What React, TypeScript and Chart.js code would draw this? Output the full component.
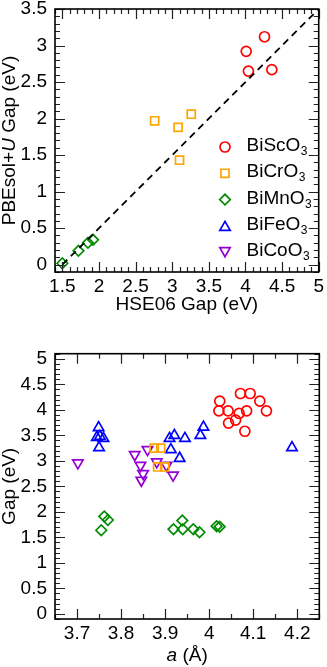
import React, { useEffect, useRef } from 'react';
import { Chart, registerables } from 'chart.js';
import { drawPoint } from 'chart.js/helpers';

Chart.register(...registerables);

const FONT = '"Liberation Sans", Arial, Helvetica, sans-serif';
const FS = 19;

// ---------- top panel: PBEsol+U gap vs HSE06 gap ----------
const topXTicks = [1.5, 2, 2.5, 3, 3.5, 4, 4.5, 5];
const topXLabels = ['1.5', '2', '2.5', '3', '3.5', '4', '4.5', '5'];
const topYTicks = [0, 0.5, 1, 1.5, 2, 2.5, 3, 3.5];
const topYLabels = ['0', '0.5', '1', '1.5', '2', '2.5', '3', '3.5'];

const scHse = [4.01, 4.04, 4.26, 4.36];
const scPbe = [2.92, 2.65, 3.12, 2.67];
const crHse = [2.76, 3.08, 3.26, 3.1];
const crPbe = [1.97, 1.88, 2.06, 1.43];
const mnHse = [1.5, 1.72, 1.85, 1.92];
const mnPbe = [0.02, 0.19, 0.3, 0.34];
const diagX = [1.5, 5];
const diagY = [0, 3.5];

// ---------- bottom panel: gap vs lattice parameter a ----------
const botXTicks = [3.7, 3.8, 3.9, 4, 4.1, 4.2];
const botXLabels = ['3.7', '3.8', '3.9', '4', '4.1', '4.2'];
const botYTicks = [0, 0.5, 1, 1.5, 2, 2.5, 3, 3.5, 4, 4.5, 5];
const botYLabels = ['0', '0.5', '1', '1.5', '2', '2.5', '3', '3.5', '4', '4.5', '5'];

const scA = [4.024, 4.022, 4.043, 4.044, 4.06, 4.068, 4.071, 4.081, 4.085, 4.093, 4.115, 4.13];
const scGap = [4.17, 3.98, 3.98, 3.74, 3.8, 3.93, 4.32, 3.58, 3.98, 4.32, 4.17, 3.98];
const crA = [3.875, 3.89, 3.883, 3.899];
const crGap = [3.25, 3.25, 2.88, 2.88];
const mnA = [3.755, 3.762, 3.77, 3.919, 3.939, 3.94, 3.964, 3.978, 4.017, 4.024];
const mnGap = [1.64, 1.91, 1.84, 1.66, 1.83, 1.66, 1.66, 1.6, 1.72, 1.71];
const feA = [3.749, 3.745, 3.752, 3.76, 3.75, 3.91, 3.921, 3.913, 3.945, 3.933, 3.98, 3.987, 4.188];
const feGap = [3.65, 3.46, 3.48, 3.44, 3.26, 3.44, 3.5, 3.22, 3.44, 3.05, 3.5, 3.66, 3.26];
const coA = [3.702, 3.831, 3.86, 3.844, 3.85, 3.846, 3.881, 3.903, 3.918];
const coGap = [2.96, 3.12, 3.22, 2.91, 2.75, 2.62, 2.98, 2.91, 2.72];

const RED = 'rgb(255,0,0)';
const ORANGE = 'rgb(255,165,0)';
const GREEN = 'rgb(0,139,0)';
const BLUE = 'rgb(0,0,255)';
const VIOLET = 'rgb(148,0,211)';

const seriesNames = ['BiScO', 'BiCrO', 'BiMnO', 'BiFeO', 'BiCoO'];
const seriesColors = [RED, ORANGE, GREEN, BLUE, VIOLET];
const seriesStyles = ['circle', 'rect', 'rectRot', 'triangle', 'triangle'];
const seriesRot = [0, 0, 0, 0, 180];
const seriesRadius = [5, 5.7, 5.3, 6, 6];

const zip = (xs: number[], ys: number[]) => xs.map((x, i) => ({ x, y: ys[i] }));

function pointSet(i: number, xs: number[], ys: number[]) {
  return {
    label: seriesNames[i] + '3',
    data: zip(xs, ys),
    showLine: false,
    pointStyle: seriesStyles[i],
    pointRotation: seriesRot[i],
    pointRadius: seriesRadius[i],
    pointHoverRadius: seriesRadius[i],
    pointBorderWidth: 1.7,
    pointBorderColor: seriesColors[i],
    pointBackgroundColor: 'rgba(0,0,0,0)',
    borderColor: seriesColors[i],
    backgroundColor: 'rgba(0,0,0,0)',
  };
}

type Part = { t: string; italic?: boolean };

function drawParts(ctx: CanvasRenderingContext2D, parts: Part[], cx: number, cy: number, rotate: boolean) {
  ctx.save();
  let total = 0;
  const widths = parts.map((p) => {
    ctx.font = `${p.italic ? 'italic ' : ''}${FS}px ${FONT}`;
    const w = ctx.measureText(p.t).width;
    total += w;
    return w;
  });
  ctx.translate(cx, cy);
  if (rotate) ctx.rotate(-Math.PI / 2);
  ctx.fillStyle = '#000';
  ctx.textBaseline = 'middle';
  ctx.textAlign = 'left';
  let x = -total / 2;
  parts.forEach((p, i) => {
    ctx.font = `${p.italic ? 'italic ' : ''}${FS}px ${FONT}`;
    ctx.fillText(p.t, x, 0);
    x += widths[i];
  });
  ctx.restore();
}

function framePlugin(opts: {
  xMinor: number; xMajor: number; yMinor: number; yMajor: number;
  xTitle: Part[]; yTitle: Part[]; xTitleY: number; yTitleX: number;
  legend?: boolean;
}) {
  return {
    id: 'frameTicks',
    afterDatasetsDraw(chart: any) {
      const ctx: CanvasRenderingContext2D = chart.ctx;
      const { left, right, top, bottom } = chart.chartArea;
      const xs = chart.scales.x;
      const ys = chart.scales.y;
      const MAJ = 10;
      const MIN = 5;
      ctx.save();
      ctx.strokeStyle = '#222';
      ctx.lineWidth = 1.2;
      const isMajor = (v: number, m: number) => Math.abs(v / m - Math.round(v / m)) < 1e-6;
      for (let k = Math.ceil(xs.min / opts.xMinor - 1e-6); k * opts.xMinor <= xs.max + 1e-6; k++) {
        const v = k * opts.xMinor;
        const px = Math.round(xs.getPixelForValue(v)) + 0.5;
        const len = isMajor(v, opts.xMajor) ? MAJ : MIN;
        ctx.beginPath();
        ctx.moveTo(px, bottom);
        ctx.lineTo(px, bottom - len);
        ctx.moveTo(px, top);
        ctx.lineTo(px, top + len);
        ctx.stroke();
      }
      for (let k = Math.ceil(ys.min / opts.yMinor - 1e-6); k * opts.yMinor <= ys.max + 1e-6; k++) {
        const v = k * opts.yMinor;
        const py = Math.round(ys.getPixelForValue(v)) + 0.5;
        const len = isMajor(v, opts.yMajor) ? MAJ : MIN;
        ctx.beginPath();
        ctx.moveTo(left, py);
        ctx.lineTo(left + len, py);
        ctx.moveTo(right, py);
        ctx.lineTo(right - len, py);
        ctx.stroke();
      }
      ctx.strokeStyle = '#000';
      ctx.lineWidth = 1.6;
      ctx.strokeRect(left, top, right - left, bottom - top);
      ctx.restore();

      const cx = (left + right) / 2;
      const cy = (top + bottom) / 2;
      drawParts(ctx, opts.xTitle, cx, opts.xTitleY, false);
      drawParts(ctx, opts.yTitle, opts.yTitleX, cy, true);

      if (opts.legend) {
        ctx.save();
        for (let i = 0; i < seriesNames.length; i++) {
          const my = top + 138 + i * 26.3;
          ctx.strokeStyle = seriesColors[i];
          ctx.fillStyle = 'rgba(0,0,0,0)';
          ctx.lineWidth = 1.7;
          drawPoint(ctx, {
            pointStyle: seriesStyles[i] as any,
            rotation: seriesRot[i],
            radius: seriesRadius[i],
            borderWidth: 1.7,
          } as any, 225, my + (i === 3 ? 1.5 : i === 4 ? -1.5 : 0));
          ctx.fillStyle = '#000';
          ctx.textBaseline = 'alphabetic';
          ctx.textAlign = 'left';
          ctx.font = `${FS}px ${FONT}`;
          const base = my + 4;
          ctx.fillText(seriesNames[i], 246.5, base);
          const w = ctx.measureText(seriesNames[i]).width;
          ctx.font = `12px ${FONT}`;
          ctx.fillText('3', 246.5 + w + 0.5, base + 4);
        }
        ctx.restore();
      }
    },
  };
}

function axisCommon(min: number, max: number, ticks: number[], labels: string[], isX: boolean, size: number, pad: number) {
  return {
    type: 'linear',
    min,
    max,
    afterBuildTicks: (s: any) => {
      s.ticks = ticks.map((v) => ({ value: v }));
    },
    afterFit: (s: any) => {
      if (isX) s.height = size;
      else s.width = size;
    },
    ticks: {
      callback: (_v: any, i: number) => labels[i],
      font: { family: FONT, size: FS },
      color: '#000',
      padding: pad,
      maxRotation: 0,
      minRotation: 0,
      autoSkip: false,
    },
    grid: { display: false, drawTicks: false },
    border: { display: false },
  };
}

export default function App() {
  const topRef = useRef<HTMLCanvasElement>(null);
  const botRef = useRef<HTMLCanvasElement>(null);

  useEffect(() => {
    const top = new Chart(topRef.current as HTMLCanvasElement, {
      type: 'scatter',
      data: {
        datasets: [
          {
            label: 'diag',
            data: zip(diagX, diagY),
            showLine: true,
            pointRadius: 0,
            borderColor: '#000',
            borderWidth: 1.8,
            borderDash: [7, 5],
            fill: false,
          } as any,
          pointSet(0, scHse, scPbe),
          pointSet(1, crHse, crPbe),
          pointSet(2, mnHse, mnPbe),
        ],
      },
      options: {
        responsive: false,
        animation: false,
        devicePixelRatio: 1,
        layout: { padding: { top: 29, left: 0, right: 7, bottom: 0 } },
        plugins: { legend: { display: false }, tooltip: { enabled: false } },
        scales: {
          x: axisCommon(1.4, 5, topXTicks, topXLabels, true, 48, 3) as any,
          y: axisCommon(-0.1, 3.5, topYTicks, topYLabels, false, 55, 8) as any,
        },
      },
      plugins: [
        framePlugin({
          xMinor: 0.1, xMajor: 0.5, yMinor: 0.1, yMajor: 0.5,
          xTitle: [{ t: 'HSE06 Gap (eV)' }],
          yTitle: [{ t: 'PBEsol+' }, { t: 'U', italic: true }, { t: ' Gap (eV)' }],
          xTitleY: 325, yTitleX: 10, legend: true,
        }) as any,
      ],
    });

    const bot = new Chart(botRef.current as HTMLCanvasElement, {
      type: 'scatter',
      data: {
        datasets: [
          pointSet(0, scA, scGap),
          pointSet(1, crA, crGap),
          pointSet(2, mnA, mnGap),
          pointSet(3, feA, feGap),
          pointSet(4, coA, coGap),
        ],
      },
      options: {
        responsive: false,
        animation: false,
        devicePixelRatio: 1,
        layout: { padding: { top: 23.7, left: 0, right: 7, bottom: 0 } },
        plugins: { legend: { display: false }, tooltip: { enabled: false } },
        scales: {
          x: axisCommon(3.65, 4.25, botXTicks, botXLabels, true, 48, 3) as any,
          y: axisCommon(-0.1, 5.1, botYTicks, botYLabels, false, 55, 8) as any,
        },
      },
      plugins: [
        framePlugin({
          xMinor: 0.05, xMajor: 0.1, yMinor: 0.1, yMajor: 0.5,
          xTitle: [{ t: 'a', italic: true }, { t: ' (Å)' }],
          yTitle: [{ t: 'Gap (eV)' }],
          xTitleY: 326, yTitleX: 10,
        }) as any,
      ],
    });

    return () => {
      top.destroy();
      bot.destroy();
    };
  }, []);

  return (
    <div style={{ position: 'fixed', left: 0, top: 0, width: 327, height: 667, overflow: 'hidden', background: '#fff' }}>
      <canvas ref={topRef} width={327} height={340} style={{ position: 'absolute', left: 0, top: -20, width: 327, height: 340 }} />
      <canvas ref={botRef} width={327} height={337} style={{ position: 'absolute', left: 0, top: 330, width: 327, height: 337 }} />
    </div>
  );
}
